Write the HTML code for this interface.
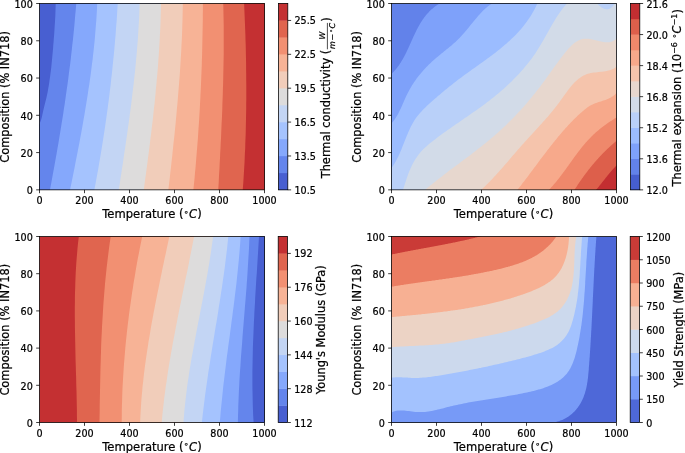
<!DOCTYPE html>
<html><head><meta charset="utf-8"><title>Material property maps</title><style>html,body{margin:0;padding:0;background:#fff}svg{display:block}</style></head><body>
<svg width="685" height="453" viewBox="0 0 685 453" font-family='"DejaVu Sans","Liberation Sans",sans-serif' fill="#000"><style>text{stroke:#000;stroke-width:0.22px}</style>
<rect width="685" height="453" fill="#fff"/>
<defs>
<clipPath id="c1"><rect x="39.50" y="3.50" width="225.00" height="186.35"/></clipPath>
<clipPath id="c2"><rect x="391.50" y="3.50" width="225.00" height="186.35"/></clipPath>
<clipPath id="c3"><rect x="39.50" y="236.50" width="225.00" height="186.00"/></clipPath>
<clipPath id="c4"><rect x="391.50" y="236.50" width="225.00" height="186.00"/></clipPath>
</defs>
<g clip-path="url(#c1)">
<rect x="37.5" y="1.5" width="229.0" height="190.0" fill="#485fd1"/>
<path d="M55.8 0.5 L55.7 3.7 L55.6 6.8 L55.5 10.0 L55.4 13.2 L55.3 16.3 L55.1 19.5 L54.9 22.7 L54.7 25.8 L54.5 29.0 L54.3 32.2 L54.1 35.3 L53.8 38.5 L53.6 41.7 L53.3 44.8 L53.1 48.0 L52.8 51.2 L52.5 54.3 L52.2 57.5 L51.9 60.7 L51.6 63.8 L51.3 67.0 L50.9 70.2 L50.5 73.3 L50.1 76.5 L49.6 79.7 L49.2 82.8 L48.7 86.0 L48.1 89.2 L47.6 92.3 L46.9 95.5 L46.2 98.7 L45.4 101.8 L44.6 105.0 L43.8 108.2 L43.1 111.3 L42.4 114.5 L41.7 117.7 L40.8 120.8 L39.5 124.0 L38.5 126.0 L37.5 126.0 L37.5 191.5 L266.5 191.5 L266.5 1.5Z" fill="#6485ec"/>
<path d="M76.4 0.5 L76.1 5.4 L75.7 10.3 L75.2 15.3 L74.8 20.2 L74.4 25.1 L73.9 30.0 L73.4 35.0 L72.9 39.9 L72.3 44.8 L71.8 49.7 L71.2 54.7 L70.7 59.6 L70.1 64.5 L69.4 69.4 L68.8 74.3 L68.2 79.3 L67.5 84.2 L66.8 89.1 L66.1 94.0 L65.4 99.0 L64.7 103.9 L63.9 108.8 L63.2 113.7 L62.4 118.7 L61.6 123.6 L60.8 128.5 L60.0 133.4 L59.2 138.3 L58.4 143.3 L57.5 148.2 L56.7 153.1 L55.8 158.0 L54.9 163.0 L54.0 167.9 L53.1 172.8 L52.2 177.7 L51.3 182.7 L50.4 187.6 L49.4 192.5 L266.5 191.5 L266.5 1.5Z" fill="#85a8fc"/>
<path d="M97.3 0.5 L97.1 5.4 L96.9 10.3 L96.6 15.3 L96.3 20.2 L95.9 25.1 L95.5 30.0 L95.1 35.0 L94.7 39.9 L94.2 44.8 L93.7 49.7 L93.1 54.7 L92.6 59.6 L91.9 64.5 L91.3 69.4 L90.7 74.3 L90.0 79.3 L89.3 84.2 L88.5 89.1 L87.8 94.0 L87.0 99.0 L86.2 103.9 L85.4 108.8 L84.6 113.7 L83.7 118.7 L82.9 123.6 L82.0 128.5 L81.1 133.4 L80.2 138.3 L79.3 143.3 L78.3 148.2 L77.4 153.1 L76.4 158.0 L75.4 163.0 L74.5 167.9 L73.5 172.8 L72.5 177.7 L71.5 182.7 L70.5 187.6 L69.5 192.5 L266.5 191.5 L266.5 1.5Z" fill="#a5c3fe"/>
<path d="M117.9 0.5 L117.6 5.4 L117.3 10.3 L117.0 15.3 L116.7 20.2 L116.3 25.1 L115.9 30.0 L115.6 35.0 L115.1 39.9 L114.7 44.8 L114.3 49.7 L113.8 54.7 L113.3 59.6 L112.8 64.5 L112.3 69.4 L111.8 74.3 L111.2 79.3 L110.7 84.2 L110.1 89.1 L109.5 94.0 L108.9 99.0 L108.2 103.9 L107.6 108.8 L106.9 113.7 L106.2 118.7 L105.5 123.6 L104.8 128.5 L104.0 133.4 L103.3 138.3 L102.5 143.3 L101.7 148.2 L100.9 153.1 L100.1 158.0 L99.2 163.0 L98.4 167.9 L97.5 172.8 L96.6 177.7 L95.7 182.7 L94.8 187.6 L93.8 192.5 L266.5 191.5 L266.5 1.5Z" fill="#c3d5f4"/>
<path d="M139.7 0.5 L139.5 5.4 L139.4 10.3 L139.2 15.3 L139.0 20.2 L138.7 25.1 L138.4 30.0 L138.1 35.0 L137.8 39.9 L137.4 44.8 L137.0 49.7 L136.6 54.7 L136.1 59.6 L135.7 64.5 L135.2 69.4 L134.7 74.3 L134.1 79.3 L133.6 84.2 L133.0 89.1 L132.4 94.0 L131.8 99.0 L131.2 103.9 L130.6 108.8 L129.9 113.7 L129.3 118.7 L128.6 123.6 L127.9 128.5 L127.2 133.4 L126.5 138.3 L125.8 143.3 L125.1 148.2 L124.3 153.1 L123.6 158.0 L122.9 163.0 L122.1 167.9 L121.4 172.8 L120.6 177.7 L119.9 182.7 L119.1 187.6 L118.3 192.5 L266.5 191.5 L266.5 1.5Z" fill="#dddcdc"/>
<path d="M161.0 0.5 L161.0 5.4 L160.9 10.3 L160.7 15.3 L160.6 20.2 L160.4 25.1 L160.2 30.0 L159.9 35.0 L159.7 39.9 L159.4 44.8 L159.1 49.7 L158.8 54.7 L158.4 59.6 L158.1 64.5 L157.7 69.4 L157.3 74.3 L156.8 79.3 L156.4 84.2 L155.9 89.1 L155.5 94.0 L155.0 99.0 L154.5 103.9 L153.9 108.8 L153.4 113.7 L152.9 118.7 L152.3 123.6 L151.7 128.5 L151.1 133.4 L150.5 138.3 L149.9 143.3 L149.3 148.2 L148.7 153.1 L148.0 158.0 L147.4 163.0 L146.7 167.9 L146.1 172.8 L145.4 177.7 L144.7 182.7 L144.1 187.6 L143.4 192.5 L266.5 191.5 L266.5 1.5Z" fill="#f1cdba"/>
<path d="M182.8 0.5 L182.8 5.4 L182.7 10.3 L182.6 15.3 L182.5 20.2 L182.3 25.1 L182.2 30.0 L182.0 35.0 L181.8 39.9 L181.5 44.8 L181.3 49.7 L181.0 54.7 L180.7 59.6 L180.4 64.5 L180.1 69.4 L179.8 74.3 L179.4 79.3 L179.0 84.2 L178.6 89.1 L178.2 94.0 L177.8 99.0 L177.4 103.9 L176.9 108.8 L176.5 113.7 L176.0 118.7 L175.6 123.6 L175.1 128.5 L174.6 133.4 L174.1 138.3 L173.5 143.3 L173.0 148.2 L172.5 153.1 L172.0 158.0 L171.4 163.0 L170.9 167.9 L170.3 172.8 L169.8 177.7 L169.2 182.7 L168.6 187.6 L168.1 192.5 L266.5 191.5 L266.5 1.5Z" fill="#f7b396"/>
<path d="M202.9 0.5 L202.9 5.4 L202.9 10.3 L202.8 15.3 L202.8 20.2 L202.7 25.1 L202.6 30.0 L202.5 35.0 L202.4 39.9 L202.3 44.8 L202.2 49.7 L202.1 54.7 L201.9 59.6 L201.8 64.5 L201.6 69.4 L201.4 74.3 L201.2 79.3 L201.0 84.2 L200.8 89.1 L200.5 94.0 L200.3 99.0 L200.0 103.9 L199.8 108.8 L199.5 113.7 L199.2 118.7 L198.9 123.6 L198.5 128.5 L198.2 133.4 L197.9 138.3 L197.5 143.3 L197.1 148.2 L196.7 153.1 L196.3 158.0 L195.9 163.0 L195.5 167.9 L195.0 172.8 L194.6 177.7 L194.1 182.7 L193.6 187.6 L193.1 192.5 L266.5 191.5 L266.5 1.5Z" fill="#f29072"/>
<path d="M223.1 0.5 L223.3 5.4 L223.4 10.3 L223.5 15.3 L223.6 20.2 L223.7 25.1 L223.7 30.0 L223.7 35.0 L223.7 39.9 L223.7 44.8 L223.7 49.7 L223.7 54.7 L223.6 59.6 L223.5 64.5 L223.4 69.4 L223.3 74.3 L223.2 79.3 L223.1 84.2 L222.9 89.1 L222.8 94.0 L222.6 99.0 L222.4 103.9 L222.3 108.8 L222.1 113.7 L221.9 118.7 L221.6 123.6 L221.4 128.5 L221.2 133.4 L221.0 138.3 L220.7 143.3 L220.5 148.2 L220.2 153.1 L220.0 158.0 L219.7 163.0 L219.5 167.9 L219.2 172.8 L218.9 177.7 L218.7 182.7 L218.4 187.6 L218.1 192.5 L266.5 191.5 L266.5 1.5Z" fill="#e0654f"/>
<path d="M244.0 0.5 L244.2 5.4 L244.4 10.3 L244.6 15.3 L244.8 20.2 L245.0 25.1 L245.2 30.0 L245.4 35.0 L245.5 39.9 L245.7 44.8 L245.8 49.7 L245.9 54.7 L246.0 59.6 L246.1 64.5 L246.1 69.4 L246.2 74.3 L246.2 79.3 L246.3 84.2 L246.3 89.1 L246.3 94.0 L246.3 99.0 L246.2 103.9 L246.2 108.8 L246.1 113.7 L246.0 118.7 L245.9 123.6 L245.8 128.5 L245.7 133.4 L245.5 138.3 L245.3 143.3 L245.2 148.2 L244.9 153.1 L244.7 158.0 L244.5 163.0 L244.2 167.9 L243.9 172.8 L243.6 177.7 L243.3 182.7 L242.9 187.6 L242.6 192.5 L266.5 191.5 L266.5 1.5Z" fill="#c43032"/>
</g>
<g clip-path="url(#c2)">
<rect x="389.5" y="1.5" width="229.0" height="190.0" fill="#6282ea"/>
<path d="M389.7 75.6 L391.8 73.5 L392.4 73.0 L392.9 72.5 L393.4 72.0 L393.9 71.4 L394.3 70.9 L394.8 70.4 L395.3 69.9 L395.8 69.3 L396.2 68.8 L396.7 68.2 L397.1 67.7 L397.5 67.1 L397.9 66.5 L398.4 66.0 L398.8 65.4 L399.2 64.8 L399.6 64.2 L400.0 63.6 L400.4 63.0 L400.8 62.4 L401.1 61.8 L401.5 61.2 L401.9 60.6 L402.2 60.0 L402.6 59.4 L402.9 58.8 L403.3 58.2 L403.6 57.5 L404.0 56.9 L404.3 56.3 L404.7 55.6 L405.0 55.0 L405.3 54.4 L405.6 53.7 L406.0 53.1 L406.3 52.4 L406.6 51.8 L406.9 51.1 L407.2 50.5 L407.5 49.8 L407.8 49.2 L408.1 48.5 L408.4 47.9 L408.7 47.2 L409.0 46.6 L409.3 45.9 L409.6 45.2 L409.9 44.6 L410.2 43.9 L410.5 43.3 L410.8 42.6 L411.1 41.9 L411.4 41.3 L411.7 40.6 L412.0 39.9 L412.3 39.3 L412.6 38.6 L412.9 38.0 L413.2 37.3 L413.5 36.6 L413.8 36.0 L414.1 35.3 L414.4 34.7 L414.7 34.0 L415.0 33.4 L415.3 32.7 L415.7 32.1 L416.0 31.4 L416.3 30.8 L416.6 30.1 L416.9 29.5 L417.3 28.8 L417.6 28.2 L417.9 27.6 L418.3 26.9 L418.6 26.3 L419.0 25.7 L419.3 25.1 L419.7 24.4 L420.0 23.8 L420.4 23.2 L420.8 22.6 L421.1 22.0 L421.5 21.4 L421.9 20.8 L422.3 20.2 L422.7 19.6 L423.1 19.0 L423.5 18.4 L423.9 17.9 L424.3 17.3 L424.8 16.7 L425.2 16.2 L425.7 15.6 L426.1 15.0 L426.6 14.5 L427.0 14.0 L427.5 13.4 L428.0 12.9 L428.5 12.4 L429.0 11.8 L429.5 11.3 L430.0 10.8 L430.5 10.3 L431.0 9.8 L431.6 9.3 L432.1 8.9 L432.7 8.4 L433.2 7.9 L433.8 7.5 L434.4 7.0 L435.0 6.6 L435.6 6.1 L436.2 5.7 L436.8 5.3 L437.5 4.8 L438.1 4.4 L438.8 4.0 L439.4 3.6 L442.0 2.1 L442.0 1.5 L618.5 1.5 L618.5 191.5 L389.5 191.5 L389.5 75.6Z" fill="#7ea1fa"/>
<path d="M389.9 125.4 L391.8 123.1 L392.7 122.1 L393.5 121.0 L394.3 120.0 L395.0 118.9 L395.7 117.8 L396.4 116.7 L397.1 115.5 L397.8 114.4 L398.4 113.2 L399.0 112.0 L399.6 110.8 L400.2 109.6 L400.8 108.4 L401.3 107.2 L401.9 106.0 L402.4 104.7 L402.9 103.5 L403.5 102.3 L404.0 101.0 L404.6 99.8 L405.1 98.6 L405.7 97.3 L406.2 96.1 L406.8 94.9 L407.4 93.7 L408.0 92.5 L408.6 91.4 L409.2 90.2 L409.9 89.0 L410.5 87.9 L411.2 86.8 L411.9 85.6 L412.6 84.5 L413.3 83.4 L414.0 82.3 L414.8 81.3 L415.5 80.2 L416.3 79.1 L417.0 78.1 L417.8 77.0 L418.6 76.0 L419.4 75.0 L420.3 73.9 L421.1 72.9 L422.0 71.9 L422.8 71.0 L423.7 70.0 L424.6 69.0 L425.5 68.0 L426.4 67.1 L427.3 66.2 L428.2 65.2 L429.1 64.3 L430.1 63.4 L431.1 62.5 L432.0 61.6 L433.0 60.7 L434.0 59.8 L435.0 58.9 L436.0 58.1 L437.0 57.2 L438.0 56.4 L439.1 55.5 L440.1 54.7 L441.1 53.8 L442.2 53.0 L443.2 52.2 L444.2 51.3 L445.3 50.5 L446.3 49.6 L447.4 48.8 L448.4 48.0 L449.4 47.1 L450.5 46.3 L451.5 45.4 L452.5 44.5 L453.5 43.6 L454.5 42.8 L455.5 41.9 L456.4 41.0 L457.4 40.0 L458.4 39.1 L459.3 38.2 L460.2 37.2 L461.1 36.3 L462.0 35.3 L462.9 34.3 L463.8 33.3 L464.7 32.3 L465.5 31.3 L466.4 30.3 L467.2 29.2 L468.1 28.2 L468.9 27.2 L469.8 26.1 L470.6 25.1 L471.4 24.1 L472.3 23.0 L473.1 22.0 L473.9 21.0 L474.8 19.9 L475.6 18.9 L476.5 17.9 L477.3 16.9 L478.2 15.8 L479.1 14.9 L479.9 13.9 L480.9 12.9 L481.8 11.9 L482.7 11.0 L483.7 10.1 L484.6 9.2 L485.6 8.3 L486.6 7.4 L487.7 6.6 L488.7 5.8 L489.8 5.0 L490.9 4.2 L492.1 3.5 L494.5 1.7 L494.5 1.5 L618.5 1.5 L618.5 191.5 L389.5 191.5 L389.5 125.4Z" fill="#9bbcff"/>
<path d="M390.1 169.9 L391.8 167.4 L392.9 165.9 L393.9 164.4 L394.9 162.8 L395.8 161.2 L396.7 159.6 L397.5 158.0 L398.4 156.3 L399.2 154.6 L399.9 152.9 L400.7 151.1 L401.4 149.4 L402.1 147.6 L402.8 145.8 L403.5 144.1 L404.2 142.3 L404.9 140.5 L405.6 138.7 L406.3 137.0 L407.0 135.2 L407.8 133.4 L408.5 131.7 L409.3 130.0 L410.1 128.3 L410.9 126.6 L411.8 124.9 L412.7 123.3 L413.6 121.7 L414.6 120.1 L415.6 118.6 L416.7 117.1 L417.9 115.6 L419.0 114.2 L420.2 112.8 L421.5 111.4 L422.7 110.0 L424.0 108.7 L425.4 107.4 L426.7 106.1 L428.1 104.8 L429.5 103.5 L430.9 102.3 L432.3 101.0 L433.7 99.8 L435.1 98.6 L436.5 97.4 L437.9 96.1 L439.4 94.9 L440.8 93.7 L442.2 92.5 L443.7 91.3 L445.1 90.1 L446.5 88.9 L448.0 87.7 L449.4 86.6 L450.9 85.4 L452.4 84.2 L453.8 83.1 L455.3 81.9 L456.8 80.8 L458.3 79.6 L459.8 78.5 L461.3 77.4 L462.8 76.3 L464.4 75.1 L465.9 74.0 L467.4 72.9 L469.0 71.8 L470.5 70.7 L472.0 69.6 L473.6 68.5 L475.1 67.4 L476.7 66.3 L478.2 65.2 L479.8 64.1 L481.3 63.0 L482.8 61.9 L484.4 60.8 L485.9 59.7 L487.4 58.6 L489.0 57.4 L490.5 56.3 L492.0 55.2 L493.5 54.0 L495.0 52.9 L496.5 51.7 L498.0 50.6 L499.4 49.4 L500.9 48.2 L502.3 47.0 L503.8 45.8 L505.2 44.6 L506.6 43.4 L508.0 42.1 L509.4 40.9 L510.8 39.6 L512.1 38.3 L513.5 37.0 L514.8 35.7 L516.1 34.4 L517.4 33.0 L518.6 31.7 L519.9 30.3 L521.1 28.9 L522.3 27.5 L523.5 26.0 L524.6 24.6 L525.8 23.1 L526.9 21.6 L527.9 20.1 L529.0 18.5 L530.0 17.0 L531.0 15.4 L532.0 13.8 L533.0 12.1 L533.9 10.5 L534.8 8.8 L535.7 7.0 L536.5 5.3 L537.3 3.5 L538.6 0.8 L538.6 1.5 L618.5 1.5 L618.5 191.5 L389.5 191.5 L389.5 169.9Z" fill="#b9d0f9"/>
<path d="M402.3 192.5 L403.1 189.7 L403.7 187.6 L404.4 185.6 L405.0 183.5 L405.7 181.4 L406.4 179.3 L407.1 177.3 L407.8 175.2 L408.5 173.2 L409.3 171.2 L410.2 169.2 L411.1 167.2 L412.0 165.3 L412.9 163.4 L414.0 161.5 L415.0 159.7 L416.2 157.9 L417.4 156.2 L418.6 154.5 L419.9 152.9 L421.3 151.3 L422.8 149.8 L424.3 148.3 L425.8 146.9 L427.4 145.5 L429.0 144.1 L430.6 142.8 L432.3 141.5 L433.9 140.2 L435.6 138.9 L437.3 137.6 L439.0 136.3 L440.7 135.1 L442.4 133.8 L444.1 132.6 L445.8 131.4 L447.6 130.1 L449.3 128.9 L451.0 127.7 L452.7 126.5 L454.5 125.3 L456.2 124.1 L458.0 122.9 L459.7 121.7 L461.4 120.5 L463.2 119.3 L464.9 118.1 L466.6 116.9 L468.4 115.7 L470.1 114.5 L471.8 113.3 L473.6 112.1 L475.3 110.9 L477.0 109.7 L478.7 108.4 L480.5 107.2 L482.2 105.9 L483.9 104.7 L485.6 103.4 L487.3 102.1 L489.0 100.9 L490.6 99.6 L492.3 98.2 L494.0 96.9 L495.6 95.6 L497.3 94.2 L498.9 92.9 L500.5 91.5 L502.2 90.1 L503.8 88.7 L505.4 87.2 L506.9 85.8 L508.5 84.3 L510.1 82.8 L511.6 81.4 L513.1 79.8 L514.6 78.3 L516.1 76.8 L517.6 75.2 L519.1 73.7 L520.5 72.1 L521.9 70.5 L523.3 68.9 L524.7 67.3 L526.1 65.6 L527.4 64.0 L528.8 62.3 L530.1 60.6 L531.4 58.9 L532.6 57.2 L533.8 55.4 L535.1 53.7 L536.2 51.9 L537.4 50.1 L538.5 48.3 L539.6 46.5 L540.7 44.7 L541.8 42.8 L542.9 41.0 L543.9 39.2 L545.0 37.3 L546.0 35.4 L547.1 33.6 L548.1 31.7 L549.1 29.9 L550.2 28.0 L551.2 26.2 L552.3 24.3 L553.4 22.5 L554.5 20.7 L555.6 18.8 L556.7 17.1 L557.9 15.3 L559.1 13.5 L560.3 11.8 L561.6 10.0 L562.9 8.3 L564.2 6.7 L565.6 5.0 L567.0 3.4 L568.9 1.1 L568.9 1.5 L618.5 1.5 L618.5 191.5 L402.3 191.5Z" fill="#d2dbe8"/>
<path d="M422.8 191.8 L425.1 189.9 L426.7 188.5 L428.4 187.1 L430.0 185.7 L431.7 184.4 L433.4 183.0 L435.1 181.7 L436.8 180.3 L438.5 179.0 L440.2 177.7 L441.9 176.4 L443.6 175.0 L445.3 173.7 L447.0 172.4 L448.7 171.1 L450.4 169.8 L452.2 168.5 L453.9 167.3 L455.6 166.0 L457.3 164.7 L459.1 163.4 L460.8 162.1 L462.5 160.8 L464.2 159.5 L466.0 158.3 L467.7 157.0 L469.4 155.7 L471.1 154.4 L472.8 153.1 L474.5 151.8 L476.2 150.4 L477.9 149.1 L479.6 147.8 L481.3 146.5 L483.0 145.1 L484.7 143.8 L486.3 142.4 L488.0 141.1 L489.7 139.7 L491.3 138.3 L492.9 136.9 L494.6 135.5 L496.2 134.1 L497.8 132.7 L499.4 131.2 L501.0 129.8 L502.6 128.3 L504.2 126.8 L505.7 125.4 L507.3 123.8 L508.8 122.3 L510.3 120.8 L511.9 119.3 L513.4 117.7 L514.9 116.2 L516.4 114.6 L517.8 113.0 L519.3 111.5 L520.8 109.9 L522.2 108.3 L523.7 106.7 L525.1 105.0 L526.5 103.4 L527.9 101.8 L529.3 100.1 L530.7 98.5 L532.1 96.8 L533.4 95.1 L534.8 93.5 L536.1 91.8 L537.4 90.1 L538.7 88.4 L540.1 86.7 L541.3 85.0 L542.6 83.2 L543.9 81.5 L545.2 79.8 L546.4 78.0 L547.7 76.3 L548.9 74.6 L550.2 72.8 L551.4 71.1 L552.7 69.3 L553.9 67.5 L555.2 65.8 L556.5 64.0 L557.8 62.3 L559.1 60.5 L560.4 58.7 L561.7 57.0 L563.1 55.2 L564.4 53.4 L565.9 51.7 L567.3 49.9 L568.8 48.3 L570.3 46.7 L571.8 45.2 L573.4 43.8 L575.0 42.5 L576.7 41.4 L578.4 40.4 L580.2 39.7 L582.1 39.1 L584.0 38.8 L586.0 38.7 L588.1 38.8 L590.2 39.1 L592.3 39.5 L594.5 40.0 L596.6 40.6 L598.8 41.1 L601.0 41.6 L603.1 42.0 L605.3 42.3 L607.3 42.3 L609.3 42.2 L611.3 41.8 L613.1 41.1 L614.9 40.0 L616.5 38.5 L619.1 36.9 L618.5 36.9 L618.5 191.5 L422.8 191.5Z" fill="#e7d7ce"/>
<path d="M479.5 191.5 L481.7 189.4 L482.8 188.3 L484.0 187.3 L485.1 186.2 L486.2 185.1 L487.3 184.0 L488.5 182.8 L489.6 181.7 L490.7 180.6 L491.8 179.4 L492.9 178.3 L493.9 177.1 L495.0 176.0 L496.1 174.8 L497.2 173.6 L498.2 172.5 L499.3 171.3 L500.3 170.1 L501.4 168.9 L502.4 167.7 L503.5 166.5 L504.5 165.3 L505.6 164.1 L506.6 162.9 L507.7 161.7 L508.7 160.5 L509.7 159.3 L510.8 158.0 L511.8 156.8 L512.8 155.6 L513.9 154.4 L514.9 153.2 L516.0 152.0 L517.0 150.8 L518.0 149.6 L519.1 148.4 L520.1 147.2 L521.2 146.0 L522.2 144.8 L523.3 143.7 L524.3 142.5 L525.4 141.3 L526.4 140.2 L527.5 139.0 L528.6 137.8 L529.6 136.7 L530.7 135.5 L531.7 134.4 L532.8 133.2 L533.9 132.1 L534.9 130.9 L536.0 129.7 L537.1 128.6 L538.1 127.4 L539.2 126.3 L540.2 125.1 L541.3 123.9 L542.3 122.8 L543.4 121.6 L544.4 120.4 L545.5 119.3 L546.5 118.1 L547.6 116.9 L548.6 115.7 L549.6 114.5 L550.6 113.3 L551.7 112.0 L552.7 110.8 L553.7 109.6 L554.7 108.3 L555.7 107.1 L556.7 105.8 L557.6 104.5 L558.6 103.2 L559.6 101.9 L560.5 100.6 L561.5 99.3 L562.4 98.0 L563.4 96.6 L564.3 95.3 L565.2 94.0 L566.2 92.7 L567.1 91.4 L568.1 90.1 L569.1 88.8 L570.1 87.5 L571.1 86.3 L572.1 85.1 L573.1 84.0 L574.2 82.8 L575.2 81.7 L576.4 80.7 L577.5 79.7 L578.6 78.8 L579.8 77.9 L581.1 77.0 L582.3 76.3 L583.6 75.5 L585.0 74.9 L586.3 74.3 L587.8 73.8 L589.2 73.4 L590.7 73.1 L592.3 72.8 L593.9 72.6 L595.5 72.4 L597.1 72.2 L598.7 72.0 L600.3 71.8 L602.0 71.7 L603.6 71.5 L605.2 71.2 L606.8 70.9 L608.3 70.6 L609.8 70.2 L611.3 69.7 L612.7 69.1 L614.1 68.4 L615.4 67.6 L616.7 66.7 L619.2 65.2 L618.5 65.2 L618.5 191.5 L479.5 191.5Z" fill="#f5c4ac"/>
<path d="M515.8 191.9 L517.7 189.6 L518.4 188.6 L519.1 187.7 L519.8 186.8 L520.6 185.9 L521.3 184.9 L522.0 184.0 L522.7 183.0 L523.5 182.1 L524.2 181.2 L524.9 180.2 L525.6 179.3 L526.4 178.3 L527.1 177.4 L527.8 176.4 L528.5 175.5 L529.2 174.5 L529.9 173.5 L530.7 172.6 L531.4 171.6 L532.1 170.7 L532.8 169.7 L533.5 168.7 L534.2 167.8 L535.0 166.8 L535.7 165.9 L536.4 164.9 L537.1 163.9 L537.8 163.0 L538.5 162.0 L539.3 161.1 L540.0 160.1 L540.7 159.1 L541.4 158.2 L542.1 157.2 L542.9 156.3 L543.6 155.3 L544.3 154.4 L545.0 153.4 L545.8 152.5 L546.5 151.5 L547.2 150.6 L548.0 149.6 L548.7 148.7 L549.4 147.7 L550.2 146.8 L550.9 145.8 L551.6 144.9 L552.4 144.0 L553.1 143.0 L553.9 142.1 L554.6 141.2 L555.3 140.3 L556.1 139.4 L556.8 138.4 L557.6 137.5 L558.3 136.6 L559.1 135.7 L559.9 134.8 L560.6 133.9 L561.4 133.0 L562.2 132.1 L562.9 131.2 L563.7 130.3 L564.5 129.5 L565.2 128.6 L566.0 127.7 L566.8 126.9 L567.6 126.0 L568.4 125.1 L569.2 124.3 L570.0 123.4 L570.8 122.6 L571.6 121.8 L572.4 120.9 L573.2 120.1 L574.0 119.3 L574.8 118.5 L575.6 117.7 L576.5 116.9 L577.3 116.1 L578.1 115.3 L579.0 114.5 L579.8 113.7 L580.7 113.0 L581.6 112.2 L582.4 111.4 L583.3 110.7 L584.2 109.9 L585.1 109.2 L586.1 108.5 L587.0 107.8 L588.0 107.1 L588.9 106.5 L589.9 105.8 L590.9 105.3 L592.0 104.7 L593.0 104.2 L594.1 103.7 L595.2 103.3 L596.3 102.9 L597.5 102.5 L598.6 102.1 L599.8 101.7 L600.9 101.4 L602.1 101.0 L603.2 100.6 L604.4 100.3 L605.5 99.9 L606.6 99.5 L607.7 99.0 L608.8 98.5 L609.9 98.0 L610.9 97.5 L611.9 96.8 L612.9 96.2 L613.9 95.5 L614.8 94.7 L615.7 93.8 L616.5 92.9 L618.7 90.8 L618.5 90.8 L618.5 191.5 L515.8 191.5Z" fill="#f7a98b"/>
<path d="M547.1 191.8 L549.2 189.6 L549.8 189.0 L550.4 188.4 L550.9 187.8 L551.5 187.1 L552.1 186.5 L552.6 185.9 L553.2 185.3 L553.7 184.6 L554.3 184.0 L554.8 183.3 L555.4 182.7 L555.9 182.1 L556.4 181.4 L557.0 180.8 L557.5 180.1 L558.0 179.4 L558.6 178.8 L559.1 178.1 L559.6 177.5 L560.1 176.8 L560.6 176.1 L561.1 175.5 L561.6 174.8 L562.1 174.1 L562.6 173.4 L563.1 172.8 L563.6 172.1 L564.1 171.4 L564.6 170.7 L565.1 170.0 L565.6 169.4 L566.1 168.7 L566.6 168.0 L567.1 167.3 L567.6 166.6 L568.1 165.9 L568.6 165.3 L569.0 164.6 L569.5 163.9 L570.0 163.2 L570.5 162.5 L571.0 161.8 L571.5 161.2 L572.0 160.5 L572.5 159.8 L573.0 159.1 L573.4 158.4 L573.9 157.7 L574.4 157.1 L574.9 156.4 L575.4 155.7 L575.9 155.0 L576.4 154.4 L576.9 153.7 L577.4 153.0 L577.9 152.4 L578.4 151.7 L578.9 151.0 L579.4 150.4 L580.0 149.7 L580.5 149.0 L581.0 148.4 L581.5 147.7 L582.0 147.1 L582.5 146.4 L583.1 145.8 L583.6 145.2 L584.1 144.5 L584.7 143.9 L585.2 143.3 L585.8 142.6 L586.3 142.0 L586.9 141.4 L587.4 140.8 L588.0 140.2 L588.6 139.6 L589.1 139.0 L589.7 138.4 L590.3 137.8 L590.9 137.2 L591.5 136.6 L592.0 136.0 L592.6 135.4 L593.2 134.8 L593.8 134.3 L594.5 133.7 L595.1 133.1 L595.7 132.6 L596.3 132.0 L596.9 131.5 L597.6 130.9 L598.2 130.4 L598.8 129.9 L599.5 129.3 L600.1 128.8 L600.8 128.3 L601.4 127.7 L602.1 127.2 L602.8 126.7 L603.4 126.2 L604.1 125.7 L604.8 125.2 L605.5 124.7 L606.2 124.2 L606.9 123.7 L607.5 123.2 L608.2 122.7 L609.0 122.3 L609.7 121.8 L610.4 121.3 L611.1 120.9 L611.8 120.4 L612.5 119.9 L613.3 119.5 L614.0 119.0 L614.7 118.6 L615.5 118.1 L616.2 117.7 L617.0 117.3 L619.6 115.8 L618.5 115.8 L618.5 191.5 L547.1 191.5Z" fill="#ef886b"/>
<path d="M573.0 192.1 L574.6 189.6 L574.9 189.1 L575.2 188.7 L575.5 188.2 L575.8 187.8 L576.1 187.3 L576.4 186.9 L576.7 186.4 L577.0 185.9 L577.3 185.5 L577.6 185.0 L577.9 184.6 L578.2 184.1 L578.5 183.7 L578.8 183.2 L579.1 182.8 L579.4 182.3 L579.7 181.9 L580.0 181.4 L580.3 181.0 L580.7 180.6 L581.0 180.1 L581.3 179.7 L581.6 179.2 L581.9 178.8 L582.2 178.3 L582.5 177.9 L582.9 177.5 L583.2 177.0 L583.5 176.6 L583.8 176.1 L584.1 175.7 L584.4 175.3 L584.8 174.8 L585.1 174.4 L585.4 174.0 L585.7 173.5 L586.1 173.1 L586.4 172.7 L586.7 172.2 L587.0 171.8 L587.4 171.4 L587.7 170.9 L588.0 170.5 L588.4 170.1 L588.7 169.6 L589.0 169.2 L589.4 168.8 L589.7 168.4 L590.0 167.9 L590.4 167.5 L590.7 167.1 L591.1 166.7 L591.4 166.3 L591.8 165.8 L592.1 165.4 L592.4 165.0 L592.8 164.6 L593.1 164.2 L593.5 163.8 L593.8 163.4 L594.2 162.9 L594.5 162.5 L594.9 162.1 L595.2 161.7 L595.6 161.3 L596.0 160.9 L596.3 160.5 L596.7 160.1 L597.0 159.7 L597.4 159.3 L597.8 158.9 L598.1 158.5 L598.5 158.1 L598.8 157.7 L599.2 157.3 L599.6 156.9 L599.9 156.5 L600.3 156.1 L600.7 155.7 L601.1 155.3 L601.4 154.9 L601.8 154.5 L602.2 154.1 L602.6 153.7 L602.9 153.3 L603.3 153.0 L603.7 152.6 L604.1 152.2 L604.5 151.8 L604.9 151.4 L605.2 151.0 L605.6 150.7 L606.0 150.3 L606.4 149.9 L606.8 149.5 L607.2 149.1 L607.6 148.8 L608.0 148.4 L608.4 148.0 L608.8 147.7 L609.2 147.3 L609.6 146.9 L610.0 146.6 L610.4 146.2 L610.8 145.8 L611.2 145.5 L611.6 145.1 L612.0 144.7 L612.4 144.4 L612.8 144.0 L613.2 143.7 L613.6 143.3 L614.1 143.0 L614.5 142.6 L614.9 142.2 L615.3 141.9 L615.7 141.5 L616.1 141.2 L616.6 140.9 L618.9 138.9 L618.5 138.9 L618.5 191.5 L573.0 191.5Z" fill="#dd5f4b"/>
<path d="M594.5 191.8 L596.4 189.5 L596.6 189.3 L596.7 189.1 L596.9 188.9 L597.1 188.7 L597.2 188.5 L597.4 188.3 L597.6 188.1 L597.8 187.9 L597.9 187.7 L598.1 187.5 L598.3 187.3 L598.4 187.1 L598.6 186.9 L598.8 186.7 L598.9 186.5 L599.1 186.3 L599.2 186.0 L599.4 185.8 L599.6 185.6 L599.7 185.4 L599.9 185.2 L600.1 185.0 L600.2 184.8 L600.4 184.6 L600.6 184.4 L600.7 184.2 L600.9 184.0 L601.1 183.8 L601.2 183.6 L601.4 183.4 L601.5 183.2 L601.7 183.0 L601.9 182.8 L602.0 182.5 L602.2 182.3 L602.4 182.1 L602.5 181.9 L602.7 181.7 L602.8 181.5 L603.0 181.3 L603.2 181.1 L603.3 180.9 L603.5 180.7 L603.7 180.5 L603.8 180.3 L604.0 180.1 L604.2 179.9 L604.3 179.7 L604.5 179.4 L604.6 179.2 L604.8 179.0 L605.0 178.8 L605.1 178.6 L605.3 178.4 L605.5 178.2 L605.6 178.0 L605.8 177.8 L605.9 177.6 L606.1 177.4 L606.3 177.2 L606.4 177.0 L606.6 176.8 L606.8 176.6 L606.9 176.4 L607.1 176.2 L607.3 175.9 L607.4 175.7 L607.6 175.5 L607.8 175.3 L607.9 175.1 L608.1 174.9 L608.3 174.7 L608.4 174.5 L608.6 174.3 L608.8 174.1 L608.9 173.9 L609.1 173.7 L609.3 173.5 L609.4 173.3 L609.6 173.1 L609.8 172.9 L609.9 172.7 L610.1 172.5 L610.3 172.3 L610.4 172.1 L610.6 171.9 L610.8 171.7 L611.0 171.5 L611.1 171.3 L611.3 171.1 L611.5 170.9 L611.6 170.7 L611.8 170.5 L612.0 170.3 L612.2 170.1 L612.3 169.9 L612.5 169.7 L612.7 169.5 L612.9 169.3 L613.0 169.1 L613.2 168.9 L613.4 168.7 L613.6 168.5 L613.8 168.3 L613.9 168.2 L614.1 168.0 L614.3 167.8 L614.5 167.6 L614.7 167.4 L614.8 167.2 L615.0 167.0 L615.2 166.8 L615.4 166.6 L615.6 166.4 L615.8 166.2 L615.9 166.1 L616.1 165.9 L616.3 165.7 L616.5 165.5 L618.6 163.4 L618.5 163.4 L618.5 191.5 L594.5 191.5Z" fill="#c32e31"/>
<path d="M594.4 1.5 L594.4 1.1 L596.6 3.2 L597.0 3.5 L597.4 3.9 L597.8 4.3 L598.2 4.7 L598.7 5.1 L599.1 5.5 L599.6 5.9 L600.1 6.3 L600.5 6.6 L601.0 7.0 L601.5 7.4 L602.0 7.7 L602.5 8.0 L603.1 8.3 L603.6 8.6 L604.1 8.8 L604.6 9.0 L605.2 9.1 L605.7 9.2 L606.3 9.3 L606.8 9.3 L607.3 9.3 L607.9 9.2 L608.4 9.0 L609.0 8.9 L609.5 8.7 L610.0 8.4 L610.5 8.1 L611.0 7.8 L611.4 7.5 L611.9 7.1 L612.3 6.7 L612.7 6.3 L613.1 5.8 L613.5 5.3 L613.8 4.8 L614.1 4.3 L614.4 3.7 L614.6 3.1 L615.9 0.4 L615.9 1.5Z" fill="#b9d0f9"/>
</g>
<g clip-path="url(#c3)">
<rect x="37.5" y="234.5" width="229.0" height="190.0" fill="#c43032"/>
<path d="M79.2 233.5 L78.6 238.4 L78.0 243.3 L77.5 248.3 L77.1 253.2 L76.7 258.1 L76.3 263.0 L76.0 268.0 L75.7 272.9 L75.5 277.8 L75.3 282.7 L75.2 287.7 L75.0 292.6 L74.9 297.5 L74.9 302.4 L74.8 307.3 L74.8 312.3 L74.8 317.2 L74.9 322.1 L74.9 327.0 L75.0 332.0 L75.1 336.9 L75.2 341.8 L75.3 346.7 L75.4 351.7 L75.5 356.6 L75.6 361.5 L75.8 366.4 L75.9 371.3 L76.1 376.3 L76.2 381.2 L76.3 386.1 L76.5 391.0 L76.6 396.0 L76.7 400.9 L76.8 405.8 L76.9 410.7 L76.9 415.7 L77.0 420.6 L77.0 425.5 L266.5 424.5 L266.5 234.5Z" fill="#e0654f"/>
<path d="M111.2 233.5 L110.4 238.4 L109.7 243.3 L109.0 248.3 L108.4 253.2 L107.8 258.1 L107.2 263.0 L106.6 268.0 L106.1 272.9 L105.6 277.8 L105.1 282.7 L104.7 287.7 L104.3 292.6 L103.9 297.5 L103.5 302.4 L103.2 307.3 L102.9 312.3 L102.6 317.2 L102.3 322.1 L102.0 327.0 L101.8 332.0 L101.5 336.9 L101.3 341.8 L101.1 346.7 L101.0 351.7 L100.8 356.6 L100.7 361.5 L100.5 366.4 L100.4 371.3 L100.3 376.3 L100.2 381.2 L100.1 386.1 L100.0 391.0 L99.9 396.0 L99.8 400.9 L99.7 405.8 L99.7 410.7 L99.6 415.7 L99.5 420.6 L99.5 425.5 L266.5 424.5 L266.5 234.5Z" fill="#f29072"/>
<path d="M142.8 233.5 L141.8 238.4 L140.8 243.3 L139.8 248.3 L138.9 253.2 L137.9 258.1 L137.0 263.0 L136.1 268.0 L135.3 272.9 L134.5 277.8 L133.6 282.7 L132.9 287.7 L132.1 292.6 L131.4 297.5 L130.7 302.4 L130.0 307.3 L129.3 312.3 L128.7 317.2 L128.1 322.1 L127.5 327.0 L126.9 332.0 L126.4 336.9 L125.9 341.8 L125.4 346.7 L125.0 351.7 L124.6 356.6 L124.2 361.5 L123.8 366.4 L123.5 371.3 L123.2 376.3 L122.9 381.2 L122.6 386.1 L122.4 391.0 L122.2 396.0 L122.1 400.9 L121.9 405.8 L121.8 410.7 L121.8 415.7 L121.7 420.6 L121.7 425.5 L266.5 424.5 L266.5 234.5Z" fill="#f7b396"/>
<path d="M169.9 233.5 L168.9 238.4 L167.9 243.3 L166.8 248.3 L165.8 253.2 L164.7 258.1 L163.7 263.0 L162.6 268.0 L161.6 272.9 L160.6 277.8 L159.6 282.7 L158.6 287.7 L157.6 292.6 L156.6 297.5 L155.6 302.4 L154.7 307.3 L153.7 312.3 L152.8 317.2 L151.9 322.1 L151.0 327.0 L150.2 332.0 L149.4 336.9 L148.5 341.8 L147.8 346.7 L147.0 351.7 L146.3 356.6 L145.6 361.5 L144.9 366.4 L144.3 371.3 L143.7 376.3 L143.2 381.2 L142.6 386.1 L142.2 391.0 L141.7 396.0 L141.3 400.9 L141.0 405.8 L140.7 410.7 L140.4 415.7 L140.2 420.6 L140.0 425.5 L266.5 424.5 L266.5 234.5Z" fill="#f1cdba"/>
<path d="M194.7 233.5 L193.7 238.4 L192.8 243.3 L191.8 248.3 L190.8 253.2 L189.8 258.1 L188.9 263.0 L187.9 268.0 L186.9 272.9 L185.8 277.8 L184.8 282.7 L183.8 287.7 L182.8 292.6 L181.8 297.5 L180.8 302.4 L179.8 307.3 L178.8 312.3 L177.8 317.2 L176.9 322.1 L175.9 327.0 L175.0 332.0 L174.0 336.9 L173.1 341.8 L172.2 346.7 L171.3 351.7 L170.5 356.6 L169.6 361.5 L168.8 366.4 L168.0 371.3 L167.3 376.3 L166.6 381.2 L165.8 386.1 L165.2 391.0 L164.5 396.0 L163.9 400.9 L163.4 405.8 L162.8 410.7 L162.3 415.7 L161.9 420.6 L161.5 425.5 L266.5 424.5 L266.5 234.5Z" fill="#dddcdc"/>
<path d="M213.5 233.5 L212.9 238.4 L212.2 243.3 L211.5 248.3 L210.8 253.2 L210.0 258.1 L209.3 263.0 L208.4 268.0 L207.6 272.9 L206.7 277.8 L205.8 282.7 L204.9 287.7 L204.0 292.6 L203.1 297.5 L202.1 302.4 L201.2 307.3 L200.2 312.3 L199.3 317.2 L198.3 322.1 L197.4 327.0 L196.4 332.0 L195.5 336.9 L194.6 341.8 L193.7 346.7 L192.8 351.7 L191.9 356.6 L191.0 361.5 L190.2 366.4 L189.4 371.3 L188.7 376.3 L187.9 381.2 L187.2 386.1 L186.6 391.0 L186.0 396.0 L185.4 400.9 L184.9 405.8 L184.4 410.7 L184.0 415.7 L183.6 420.6 L183.3 425.5 L266.5 424.5 L266.5 234.5Z" fill="#c3d5f4"/>
<path d="M228.6 233.5 L228.1 238.4 L227.6 243.3 L227.1 248.3 L226.5 253.2 L225.9 258.1 L225.3 263.0 L224.7 268.0 L224.0 272.9 L223.3 277.8 L222.6 282.7 L221.9 287.7 L221.1 292.6 L220.4 297.5 L219.6 302.4 L218.8 307.3 L218.1 312.3 L217.3 317.2 L216.5 322.1 L215.6 327.0 L214.8 332.0 L214.0 336.9 L213.2 341.8 L212.4 346.7 L211.6 351.7 L210.8 356.6 L210.1 361.5 L209.3 366.4 L208.5 371.3 L207.8 376.3 L207.1 381.2 L206.4 386.1 L205.7 391.0 L205.0 396.0 L204.4 400.9 L203.8 405.8 L203.2 410.7 L202.6 415.7 L202.1 420.6 L201.6 425.5 L266.5 424.5 L266.5 234.5Z" fill="#a5c3fe"/>
<path d="M240.8 233.5 L240.5 238.4 L240.2 243.3 L239.8 248.3 L239.4 253.2 L239.0 258.1 L238.5 263.0 L238.0 268.0 L237.5 272.9 L237.0 277.8 L236.5 282.7 L235.9 287.7 L235.3 292.6 L234.7 297.5 L234.1 302.4 L233.5 307.3 L232.8 312.3 L232.2 317.2 L231.5 322.1 L230.9 327.0 L230.2 332.0 L229.6 336.9 L228.9 341.8 L228.2 346.7 L227.6 351.7 L226.9 356.6 L226.3 361.5 L225.7 366.4 L225.1 371.3 L224.5 376.3 L223.9 381.2 L223.3 386.1 L222.8 391.0 L222.3 396.0 L221.8 400.9 L221.3 405.8 L220.8 410.7 L220.4 415.7 L220.0 420.6 L219.7 425.5 L266.5 424.5 L266.5 234.5Z" fill="#85a8fc"/>
<path d="M249.6 233.5 L249.4 238.4 L249.2 243.3 L249.0 248.3 L248.7 253.2 L248.4 258.1 L248.1 263.0 L247.8 268.0 L247.5 272.9 L247.2 277.8 L246.8 282.7 L246.5 287.7 L246.1 292.6 L245.7 297.5 L245.3 302.4 L244.9 307.3 L244.5 312.3 L244.1 317.2 L243.7 322.1 L243.3 327.0 L242.9 332.0 L242.5 336.9 L242.2 341.8 L241.8 346.7 L241.4 351.7 L241.0 356.6 L240.7 361.5 L240.4 366.4 L240.0 371.3 L239.7 376.3 L239.4 381.2 L239.2 386.1 L238.9 391.0 L238.7 396.0 L238.5 400.9 L238.3 405.8 L238.2 410.7 L238.0 415.7 L237.9 420.6 L237.9 425.5 L266.5 424.5 L266.5 234.5Z" fill="#6485ec"/>
<path d="M259.2 233.5 L258.9 238.4 L258.6 243.3 L258.3 248.3 L258.0 253.2 L257.7 258.1 L257.4 263.0 L257.1 268.0 L256.8 272.9 L256.4 277.8 L256.1 282.7 L255.8 287.7 L255.5 292.6 L255.2 297.5 L255.0 302.4 L254.7 307.3 L254.4 312.3 L254.2 317.2 L253.9 322.1 L253.7 327.0 L253.5 332.0 L253.3 336.9 L253.1 341.8 L252.9 346.7 L252.8 351.7 L252.7 356.6 L252.6 361.5 L252.5 366.4 L252.4 371.3 L252.4 376.3 L252.4 381.2 L252.4 386.1 L252.5 391.0 L252.6 396.0 L252.7 400.9 L252.8 405.8 L253.0 410.7 L253.2 415.7 L253.5 420.6 L253.8 425.5 L266.5 424.5 L266.5 234.5Z" fill="#485fd1"/>
</g>
<g clip-path="url(#c4)">
<rect x="389.5" y="234.5" width="229.0" height="190.0" fill="#4e68d8"/>
<path d="M551.0 423.0 L554.0 422.3 L555.1 422.1 L556.1 421.9 L557.2 421.6 L558.3 421.3 L559.3 421.0 L560.3 420.6 L561.3 420.3 L562.3 419.9 L563.2 419.4 L564.1 419.0 L565.1 418.5 L566.0 418.0 L566.9 417.5 L567.7 416.9 L568.6 416.4 L569.4 415.8 L570.2 415.2 L571.0 414.6 L571.8 413.9 L572.5 413.3 L573.2 412.6 L574.0 411.9 L574.7 411.2 L575.3 410.4 L576.0 409.7 L576.6 408.9 L577.3 408.1 L577.9 407.4 L578.4 406.5 L579.0 405.7 L579.5 404.9 L580.1 404.1 L580.6 403.2 L581.1 402.3 L581.5 401.5 L582.0 400.6 L582.4 399.7 L582.8 398.8 L583.2 397.9 L583.6 397.0 L583.9 396.0 L584.2 395.1 L584.6 394.2 L584.9 393.2 L585.2 392.3 L585.4 391.3 L585.7 390.4 L585.9 389.4 L586.2 388.4 L586.4 387.4 L586.6 386.4 L586.8 385.5 L587.0 384.5 L587.1 383.5 L587.3 382.5 L587.5 381.4 L587.6 380.4 L587.7 379.4 L587.9 378.4 L588.0 377.4 L588.1 376.4 L588.2 375.4 L588.3 374.3 L588.4 373.3 L588.5 372.3 L588.6 371.2 L588.7 370.2 L588.8 369.2 L588.8 368.2 L588.9 367.1 L589.0 366.1 L589.1 365.1 L589.2 364.1 L589.2 363.0 L589.3 362.0 L589.4 361.0 L589.5 360.0 L589.5 358.9 L589.6 357.9 L589.7 356.9 L589.8 355.9 L589.8 354.9 L589.9 353.8 L590.0 352.8 L590.0 351.8 L590.1 350.8 L590.2 349.8 L590.2 348.7 L590.3 347.7 L590.4 346.7 L590.4 345.7 L590.5 344.7 L590.5 343.7 L590.6 342.6 L590.7 341.6 L590.7 340.6 L590.8 339.6 L590.8 338.6 L590.9 337.6 L591.0 336.6 L591.0 335.6 L591.1 334.5 L591.1 333.5 L591.2 332.5 L591.2 331.5 L591.3 330.5 L591.4 329.5 L591.4 328.5 L591.5 327.5 L591.5 326.5 L591.6 325.4 L591.6 324.4 L591.7 323.4 L591.7 322.4 L591.8 321.4 L591.8 320.4 L591.9 319.4 L591.9 318.4 L592.0 317.4 L592.0 316.4 L592.1 315.4 L592.1 314.4 L592.2 313.3 L592.2 312.3 L592.3 311.3 L592.3 310.3 L592.4 309.3 L592.4 308.3 L592.5 307.3 L592.5 306.3 L592.6 305.3 L592.6 304.3 L592.7 303.3 L592.7 302.3 L592.8 301.3 L592.8 300.3 L592.8 299.2 L592.9 298.2 L592.9 297.2 L593.0 296.2 L593.0 295.2 L593.1 294.2 L593.1 293.2 L593.2 292.2 L593.2 291.2 L593.3 290.2 L593.3 289.2 L593.4 288.2 L593.4 287.2 L593.5 286.2 L593.5 285.1 L593.6 284.1 L593.6 283.1 L593.7 282.1 L593.7 281.1 L593.8 280.1 L593.8 279.1 L593.9 278.1 L593.9 277.1 L594.0 276.1 L594.0 275.1 L594.1 274.1 L594.1 273.0 L594.2 272.0 L594.2 271.0 L594.3 270.0 L594.3 269.0 L594.4 268.0 L594.5 267.0 L594.5 266.0 L594.6 265.0 L594.6 263.9 L594.7 262.9 L594.7 261.9 L594.8 260.9 L594.9 259.9 L594.9 258.9 L595.0 257.9 L595.0 256.8 L595.1 255.8 L595.2 254.8 L595.2 253.8 L595.3 252.8 L595.4 251.8 L595.4 250.7 L595.5 249.7 L595.5 248.7 L595.6 247.7 L595.7 246.7 L595.8 245.6 L595.8 244.6 L595.9 243.6 L596.0 242.6 L596.0 241.6 L596.1 240.5 L596.2 239.5 L596.3 238.5 L596.3 237.5 L596.4 236.4 L596.6 233.5 L596.6 234.5 L389.5 234.5 L389.5 424.5 L551.0 424.5Z" fill="#779af7"/>
<path d="M388.6 413.5 L391.5 412.5 L393.0 411.7 L394.5 411.2 L396.1 410.8 L397.7 410.5 L399.3 410.4 L400.8 410.4 L402.4 410.4 L404.1 410.6 L405.7 410.7 L407.3 410.9 L408.9 411.1 L410.5 411.3 L412.1 411.5 L413.7 411.7 L415.3 411.9 L416.9 412.0 L418.5 412.1 L420.1 412.1 L421.7 412.1 L423.3 412.0 L424.9 411.9 L426.6 411.7 L428.2 411.5 L429.8 411.2 L431.4 411.0 L433.0 410.7 L434.6 410.3 L436.2 410.0 L437.8 409.6 L439.4 409.2 L441.1 408.8 L442.7 408.4 L444.3 408.0 L445.9 407.6 L447.5 407.1 L449.1 406.7 L450.7 406.3 L452.3 406.0 L453.9 405.6 L455.4 405.2 L457.0 404.9 L458.6 404.5 L460.2 404.2 L461.8 403.9 L463.4 403.6 L464.9 403.2 L466.5 402.9 L468.1 402.6 L469.7 402.3 L471.3 402.1 L472.8 401.8 L474.4 401.5 L476.0 401.2 L477.6 401.0 L479.1 400.7 L480.7 400.4 L482.3 400.2 L483.9 399.9 L485.4 399.7 L487.0 399.4 L488.6 399.2 L490.2 398.9 L491.7 398.7 L493.3 398.4 L494.9 398.2 L496.5 397.9 L498.1 397.7 L499.7 397.4 L501.3 397.2 L502.8 396.9 L504.4 396.7 L506.0 396.4 L507.6 396.1 L509.2 395.8 L510.8 395.6 L512.4 395.3 L514.1 395.0 L515.7 394.7 L517.3 394.4 L518.9 394.1 L520.5 393.8 L522.1 393.5 L523.8 393.1 L525.4 392.8 L527.0 392.4 L528.7 392.1 L530.3 391.7 L532.0 391.3 L533.6 390.9 L535.2 390.5 L536.9 390.1 L538.5 389.6 L540.1 389.2 L541.7 388.7 L543.3 388.2 L544.8 387.6 L546.4 387.0 L547.9 386.5 L549.4 385.8 L550.9 385.2 L552.3 384.5 L553.8 383.8 L555.2 383.0 L556.5 382.3 L557.9 381.4 L559.1 380.6 L560.4 379.7 L561.6 378.7 L562.8 377.8 L563.9 376.7 L565.0 375.6 L566.0 374.5 L567.0 373.4 L567.9 372.1 L568.8 370.9 L569.6 369.5 L570.4 368.2 L571.1 366.8 L571.8 365.3 L572.5 363.8 L573.1 362.3 L573.6 360.8 L574.2 359.2 L574.7 357.7 L575.2 356.1 L575.6 354.4 L576.1 352.8 L576.5 351.2 L576.9 349.5 L577.2 347.9 L577.6 346.3 L578.0 344.6 L578.3 343.0 L578.6 341.4 L579.0 339.7 L579.3 338.1 L579.6 336.5 L579.8 334.9 L580.1 333.3 L580.4 331.6 L580.6 330.0 L580.9 328.4 L581.1 326.8 L581.4 325.2 L581.6 323.6 L581.8 322.0 L582.0 320.4 L582.2 318.8 L582.4 317.2 L582.6 315.6 L582.8 314.0 L582.9 312.4 L583.1 310.8 L583.2 309.2 L583.4 307.6 L583.5 306.0 L583.7 304.4 L583.8 302.8 L584.0 301.2 L584.1 299.6 L584.2 298.0 L584.3 296.4 L584.4 294.8 L584.5 293.2 L584.7 291.6 L584.8 290.0 L584.9 288.4 L585.0 286.8 L585.1 285.2 L585.2 283.6 L585.2 282.0 L585.3 280.4 L585.4 278.8 L585.5 277.2 L585.6 275.6 L585.7 273.9 L585.8 272.3 L585.9 270.7 L586.0 269.1 L586.1 267.5 L586.2 265.9 L586.3 264.3 L586.3 262.6 L586.4 261.0 L586.5 259.4 L586.7 257.8 L586.8 256.1 L586.9 254.5 L587.0 252.9 L587.1 251.2 L587.2 249.6 L587.3 248.0 L587.5 246.3 L587.6 244.7 L587.7 243.0 L587.9 241.4 L588.0 239.7 L588.2 238.1 L588.3 236.4 L588.6 233.4 L588.6 234.5 L389.5 234.5 L389.5 413.5Z" fill="#a3c2fe"/>
<path d="M388.5 378.0 L391.5 377.7 L392.9 377.6 L394.3 377.4 L395.8 377.3 L397.2 377.3 L398.6 377.3 L400.0 377.3 L401.5 377.3 L402.9 377.4 L404.3 377.5 L405.8 377.5 L407.2 377.6 L408.6 377.7 L410.0 377.8 L411.5 377.9 L412.9 377.9 L414.3 377.9 L415.7 377.9 L417.2 377.9 L418.6 377.9 L420.0 377.8 L421.4 377.7 L422.9 377.6 L424.3 377.5 L425.7 377.4 L427.1 377.2 L428.5 377.1 L430.0 376.9 L431.4 376.7 L432.8 376.5 L434.2 376.3 L435.6 376.1 L437.0 375.9 L438.5 375.7 L439.9 375.4 L441.3 375.2 L442.7 375.0 L444.1 374.7 L445.5 374.5 L446.9 374.2 L448.3 374.0 L449.7 373.8 L451.2 373.5 L452.6 373.3 L454.0 373.0 L455.4 372.8 L456.8 372.5 L458.2 372.2 L459.6 372.0 L461.0 371.7 L462.4 371.5 L463.8 371.2 L465.2 370.9 L466.6 370.7 L468.0 370.4 L469.4 370.1 L470.8 369.8 L472.2 369.6 L473.6 369.3 L475.0 369.0 L476.4 368.7 L477.8 368.4 L479.2 368.1 L480.6 367.9 L482.0 367.6 L483.4 367.3 L484.8 367.0 L486.2 366.7 L487.6 366.4 L489.0 366.1 L490.4 365.8 L491.8 365.5 L493.2 365.1 L494.6 364.8 L496.0 364.5 L497.4 364.2 L498.8 363.9 L500.2 363.6 L501.6 363.2 L502.9 362.9 L504.3 362.6 L505.7 362.3 L507.1 361.9 L508.5 361.6 L509.9 361.3 L511.3 360.9 L512.7 360.6 L514.1 360.2 L515.5 359.9 L516.9 359.6 L518.2 359.2 L519.6 358.9 L521.0 358.5 L522.4 358.1 L523.8 357.8 L525.2 357.4 L526.6 357.0 L528.0 356.7 L529.3 356.3 L530.7 355.9 L532.1 355.5 L533.5 355.1 L534.8 354.6 L536.2 354.2 L537.6 353.8 L539.0 353.3 L540.3 352.9 L541.7 352.4 L543.0 351.9 L544.4 351.4 L545.7 350.8 L547.1 350.3 L548.4 349.7 L549.7 349.1 L551.0 348.5 L552.3 347.9 L553.6 347.2 L554.8 346.5 L556.0 345.7 L557.2 344.9 L558.3 344.1 L559.4 343.2 L560.4 342.3 L561.5 341.3 L562.4 340.3 L563.4 339.3 L564.3 338.2 L565.2 337.1 L566.0 336.0 L566.8 334.8 L567.5 333.6 L568.2 332.4 L568.8 331.2 L569.4 329.9 L570.0 328.6 L570.5 327.2 L571.0 325.9 L571.5 324.5 L571.9 323.1 L572.3 321.8 L572.7 320.4 L573.1 319.0 L573.5 317.6 L573.8 316.2 L574.2 314.8 L574.5 313.4 L574.8 312.0 L575.1 310.6 L575.4 309.2 L575.7 307.8 L576.0 306.4 L576.2 305.0 L576.5 303.5 L576.7 302.1 L577.0 300.7 L577.2 299.3 L577.4 297.9 L577.6 296.5 L577.8 295.0 L577.9 293.6 L578.1 292.2 L578.3 290.8 L578.4 289.3 L578.6 287.9 L578.7 286.5 L578.9 285.0 L579.0 283.6 L579.1 282.2 L579.2 280.8 L579.3 279.3 L579.5 277.9 L579.6 276.5 L579.7 275.0 L579.8 273.6 L579.8 272.2 L579.9 270.7 L580.0 269.3 L580.1 267.9 L580.2 266.4 L580.3 265.0 L580.4 263.6 L580.4 262.1 L580.5 260.7 L580.6 259.3 L580.7 257.8 L580.8 256.4 L580.9 255.0 L580.9 253.6 L581.0 252.1 L581.1 250.7 L581.2 249.3 L581.3 247.9 L581.4 246.4 L581.5 245.0 L581.6 243.6 L581.7 242.2 L581.8 240.8 L581.9 239.4 L582.0 237.9 L582.2 236.5 L582.4 233.5 L582.4 234.5 L389.5 234.5 L389.5 378.0Z" fill="#ccd9ed"/>
<path d="M388.5 347.5 L391.5 347.3 L392.8 347.2 L394.0 347.0 L395.3 346.9 L396.5 346.8 L397.8 346.7 L399.0 346.7 L400.3 346.6 L401.6 346.5 L402.8 346.4 L404.1 346.4 L405.4 346.3 L406.6 346.2 L407.9 346.2 L409.1 346.1 L410.4 346.0 L411.7 346.0 L412.9 345.9 L414.2 345.9 L415.4 345.8 L416.7 345.8 L418.0 345.7 L419.2 345.6 L420.5 345.6 L421.8 345.5 L423.0 345.5 L424.3 345.4 L425.5 345.3 L426.8 345.3 L428.1 345.2 L429.3 345.1 L430.6 345.0 L431.8 344.9 L433.1 344.8 L434.4 344.7 L435.6 344.6 L436.9 344.5 L438.1 344.4 L439.4 344.3 L440.6 344.1 L441.9 344.0 L443.1 343.8 L444.4 343.7 L445.6 343.5 L446.9 343.3 L448.1 343.2 L449.4 343.0 L450.6 342.8 L451.9 342.6 L453.1 342.4 L454.4 342.2 L455.6 342.0 L456.9 341.7 L458.1 341.5 L459.4 341.3 L460.6 341.1 L461.8 340.8 L463.1 340.6 L464.3 340.4 L465.6 340.1 L466.8 339.9 L468.1 339.6 L469.3 339.4 L470.5 339.2 L471.8 338.9 L473.0 338.7 L474.3 338.4 L475.5 338.2 L476.7 337.9 L478.0 337.7 L479.2 337.5 L480.5 337.2 L481.7 337.0 L483.0 336.7 L484.2 336.5 L485.4 336.2 L486.7 336.0 L487.9 335.7 L489.1 335.5 L490.4 335.2 L491.6 335.0 L492.8 334.7 L494.1 334.5 L495.3 334.2 L496.5 334.0 L497.8 333.7 L499.0 333.4 L500.2 333.1 L501.4 332.9 L502.7 332.6 L503.9 332.3 L505.1 332.0 L506.3 331.7 L507.5 331.4 L508.8 331.1 L510.0 330.8 L511.2 330.5 L512.4 330.1 L513.6 329.8 L514.8 329.5 L516.0 329.1 L517.2 328.8 L518.4 328.4 L519.6 328.1 L520.8 327.7 L522.0 327.3 L523.2 327.0 L524.4 326.6 L525.6 326.2 L526.8 325.8 L528.0 325.4 L529.2 325.0 L530.4 324.6 L531.7 324.2 L532.9 323.8 L534.1 323.4 L535.3 322.9 L536.5 322.5 L537.7 322.0 L538.9 321.6 L540.1 321.1 L541.3 320.6 L542.5 320.1 L543.7 319.6 L544.9 319.1 L546.0 318.6 L547.2 318.0 L548.3 317.5 L549.4 316.9 L550.5 316.3 L551.6 315.6 L552.7 315.0 L553.7 314.3 L554.7 313.6 L555.7 312.9 L556.7 312.1 L557.7 311.4 L558.6 310.6 L559.5 309.7 L560.4 308.9 L561.2 308.0 L562.1 307.1 L562.8 306.1 L563.6 305.1 L564.3 304.1 L565.0 303.1 L565.7 302.0 L566.3 301.0 L566.9 299.9 L567.5 298.7 L568.0 297.6 L568.6 296.5 L569.0 295.3 L569.5 294.2 L569.9 293.0 L570.3 291.8 L570.7 290.6 L571.1 289.4 L571.4 288.2 L571.7 287.0 L572.0 285.7 L572.2 284.5 L572.4 283.3 L572.7 282.0 L572.9 280.8 L573.0 279.5 L573.2 278.2 L573.3 277.0 L573.5 275.7 L573.6 274.4 L573.7 273.1 L573.8 271.9 L573.9 270.6 L574.0 269.3 L574.0 268.0 L574.1 266.7 L574.2 265.4 L574.2 264.1 L574.3 262.9 L574.3 261.6 L574.4 260.3 L574.4 259.0 L574.4 257.7 L574.5 256.4 L574.5 255.2 L574.6 253.9 L574.6 252.6 L574.7 251.4 L574.8 250.1 L574.9 248.8 L574.9 247.6 L575.0 246.3 L575.1 245.1 L575.3 243.9 L575.4 242.6 L575.5 241.4 L575.7 240.2 L575.9 239.0 L576.1 237.8 L576.3 236.6 L576.8 233.6 L576.8 234.5 L389.5 234.5 L389.5 347.5Z" fill="#ecd3c5"/>
<path d="M388.5 317.4 L391.5 317.1 L392.6 317.0 L393.6 316.9 L394.7 316.8 L395.8 316.7 L396.9 316.6 L397.9 316.5 L399.0 316.4 L400.1 316.3 L401.2 316.2 L402.2 316.1 L403.3 316.0 L404.4 315.9 L405.5 315.8 L406.5 315.7 L407.6 315.6 L408.7 315.5 L409.8 315.4 L410.8 315.3 L411.9 315.2 L413.0 315.1 L414.1 315.0 L415.1 314.9 L416.2 314.8 L417.3 314.7 L418.4 314.6 L419.4 314.5 L420.5 314.4 L421.6 314.2 L422.6 314.1 L423.7 314.0 L424.8 313.9 L425.9 313.8 L426.9 313.7 L428.0 313.6 L429.1 313.4 L430.2 313.3 L431.2 313.2 L432.3 313.1 L433.4 313.0 L434.4 312.8 L435.5 312.7 L436.6 312.6 L437.7 312.4 L438.7 312.3 L439.8 312.2 L440.9 312.1 L441.9 311.9 L443.0 311.8 L444.1 311.6 L445.1 311.5 L446.2 311.4 L447.3 311.2 L448.3 311.1 L449.4 310.9 L450.5 310.8 L451.5 310.6 L452.6 310.5 L453.7 310.3 L454.7 310.2 L455.8 310.0 L456.9 309.9 L457.9 309.7 L459.0 309.5 L460.0 309.4 L461.1 309.2 L462.2 309.0 L463.2 308.9 L464.3 308.7 L465.4 308.5 L466.4 308.3 L467.5 308.2 L468.5 308.0 L469.6 307.8 L470.7 307.6 L471.7 307.4 L472.8 307.2 L473.8 307.0 L474.9 306.8 L475.9 306.6 L477.0 306.4 L478.0 306.2 L479.1 306.0 L480.2 305.8 L481.2 305.6 L482.3 305.4 L483.3 305.1 L484.4 304.9 L485.4 304.7 L486.5 304.5 L487.5 304.2 L488.6 304.0 L489.6 303.8 L490.7 303.5 L491.7 303.3 L492.8 303.0 L493.8 302.8 L494.9 302.5 L495.9 302.3 L496.9 302.0 L498.0 301.8 L499.0 301.5 L500.1 301.2 L501.1 301.0 L502.2 300.7 L503.2 300.4 L504.2 300.1 L505.3 299.8 L506.3 299.6 L507.4 299.3 L508.4 299.0 L509.4 298.7 L510.5 298.4 L511.5 298.1 L512.5 297.7 L513.6 297.4 L514.6 297.1 L515.6 296.8 L516.7 296.5 L517.7 296.1 L518.7 295.8 L519.8 295.5 L520.8 295.1 L521.8 294.8 L522.8 294.4 L523.9 294.1 L524.9 293.7 L525.9 293.3 L526.9 293.0 L527.9 292.6 L529.0 292.2 L530.0 291.8 L531.0 291.4 L532.0 291.0 L533.0 290.6 L534.0 290.1 L535.0 289.7 L536.0 289.3 L537.0 288.8 L537.9 288.4 L538.9 287.9 L539.9 287.4 L540.9 286.9 L541.8 286.4 L542.8 285.9 L543.7 285.4 L544.7 284.9 L545.6 284.3 L546.5 283.8 L547.4 283.2 L548.3 282.6 L549.2 282.0 L550.1 281.4 L550.9 280.7 L551.8 280.1 L552.6 279.4 L553.4 278.7 L554.1 278.0 L554.9 277.3 L555.6 276.5 L556.3 275.7 L557.0 274.9 L557.6 274.1 L558.3 273.3 L558.9 272.4 L559.5 271.6 L560.1 270.7 L560.6 269.8 L561.1 268.9 L561.7 267.9 L562.1 267.0 L562.6 266.0 L563.1 265.1 L563.5 264.1 L563.9 263.1 L564.3 262.1 L564.7 261.0 L565.0 260.0 L565.4 259.0 L565.7 257.9 L566.0 256.9 L566.3 255.8 L566.6 254.8 L566.8 253.7 L567.1 252.6 L567.3 251.6 L567.5 250.5 L567.7 249.4 L567.9 248.3 L568.1 247.2 L568.2 246.1 L568.4 245.0 L568.5 244.0 L568.6 242.9 L568.7 241.8 L568.8 240.7 L568.9 239.6 L568.9 238.6 L569.0 237.5 L569.0 236.4 L569.2 233.4 L569.2 234.5 L389.5 234.5 L389.5 317.4Z" fill="#f7b093"/>
<path d="M388.5 287.2 L391.5 286.7 L392.4 286.5 L393.3 286.4 L394.1 286.3 L395.0 286.1 L395.9 286.0 L396.7 285.8 L397.6 285.7 L398.5 285.6 L399.4 285.4 L400.2 285.3 L401.1 285.1 L402.0 285.0 L402.9 284.9 L403.7 284.7 L404.6 284.6 L405.5 284.5 L406.4 284.3 L407.2 284.2 L408.1 284.1 L409.0 284.0 L409.9 283.8 L410.7 283.7 L411.6 283.6 L412.5 283.4 L413.4 283.3 L414.2 283.2 L415.1 283.1 L416.0 282.9 L416.9 282.8 L417.7 282.7 L418.6 282.6 L419.5 282.4 L420.4 282.3 L421.2 282.2 L422.1 282.1 L423.0 282.0 L423.9 281.8 L424.7 281.7 L425.6 281.6 L426.5 281.5 L427.4 281.3 L428.3 281.2 L429.1 281.1 L430.0 281.0 L430.9 280.9 L431.8 280.7 L432.6 280.6 L433.5 280.5 L434.4 280.4 L435.3 280.3 L436.1 280.1 L437.0 280.0 L437.9 279.9 L438.8 279.8 L439.6 279.6 L440.5 279.5 L441.4 279.4 L442.3 279.3 L443.1 279.1 L444.0 279.0 L444.9 278.9 L445.8 278.8 L446.6 278.6 L447.5 278.5 L448.4 278.4 L449.3 278.2 L450.1 278.1 L451.0 278.0 L451.9 277.9 L452.8 277.7 L453.6 277.6 L454.5 277.5 L455.4 277.3 L456.3 277.2 L457.1 277.1 L458.0 276.9 L458.9 276.8 L459.8 276.7 L460.6 276.5 L461.5 276.4 L462.4 276.2 L463.3 276.1 L464.1 275.9 L465.0 275.8 L465.9 275.7 L466.8 275.5 L467.6 275.4 L468.5 275.2 L469.4 275.1 L470.3 274.9 L471.1 274.8 L472.0 274.6 L472.9 274.5 L473.8 274.3 L474.6 274.1 L475.5 274.0 L476.4 273.8 L477.3 273.7 L478.1 273.5 L479.0 273.3 L479.9 273.2 L480.8 273.0 L481.6 272.8 L482.5 272.7 L483.4 272.5 L484.2 272.3 L485.1 272.1 L486.0 272.0 L486.9 271.8 L487.7 271.6 L488.6 271.4 L489.5 271.2 L490.4 271.1 L491.2 270.9 L492.1 270.7 L493.0 270.5 L493.8 270.3 L494.7 270.1 L495.6 269.9 L496.5 269.7 L497.3 269.5 L498.2 269.3 L499.1 269.1 L499.9 268.9 L500.8 268.7 L501.7 268.5 L502.5 268.2 L503.4 268.0 L504.3 267.8 L505.1 267.6 L506.0 267.3 L506.9 267.1 L507.7 266.9 L508.6 266.6 L509.5 266.4 L510.3 266.1 L511.2 265.9 L512.0 265.6 L512.9 265.4 L513.7 265.1 L514.6 264.8 L515.4 264.6 L516.3 264.3 L517.1 264.0 L517.9 263.7 L518.8 263.4 L519.6 263.1 L520.4 262.8 L521.3 262.5 L522.1 262.2 L522.9 261.9 L523.7 261.5 L524.5 261.2 L525.3 260.9 L526.1 260.5 L526.9 260.2 L527.7 259.8 L528.5 259.4 L529.3 259.1 L530.1 258.7 L530.9 258.3 L531.7 257.9 L532.4 257.5 L533.2 257.1 L534.0 256.7 L534.7 256.2 L535.5 255.8 L536.2 255.4 L537.0 254.9 L537.7 254.4 L538.4 254.0 L539.1 253.5 L539.9 253.0 L540.6 252.5 L541.3 252.0 L542.0 251.5 L542.7 251.0 L543.4 250.4 L544.0 249.9 L544.7 249.3 L545.4 248.8 L546.0 248.2 L546.7 247.6 L547.3 247.0 L548.0 246.4 L548.6 245.8 L549.2 245.2 L549.9 244.5 L550.5 243.9 L551.1 243.2 L551.7 242.6 L552.3 241.9 L552.8 241.2 L553.4 240.5 L554.0 239.8 L554.5 239.0 L555.1 238.3 L555.6 237.5 L556.1 236.8 L557.9 234.3 L557.9 234.5 L389.5 234.5 L389.5 287.2Z" fill="#eb7d62"/>
<path d="M388.6 255.1 L391.6 254.5 L392.0 254.4 L392.4 254.3 L392.9 254.2 L393.3 254.1 L393.8 254.1 L394.2 254.0 L394.6 253.9 L395.1 253.8 L395.5 253.7 L396.0 253.6 L396.4 253.5 L396.9 253.4 L397.3 253.3 L397.7 253.2 L398.2 253.1 L398.6 253.0 L399.1 253.0 L399.5 252.9 L400.0 252.8 L400.4 252.7 L400.8 252.6 L401.3 252.5 L401.7 252.4 L402.2 252.3 L402.6 252.3 L403.1 252.2 L403.5 252.1 L404.0 252.0 L404.4 251.9 L404.8 251.8 L405.3 251.7 L405.7 251.6 L406.2 251.6 L406.6 251.5 L407.1 251.4 L407.5 251.3 L407.9 251.2 L408.4 251.1 L408.8 251.0 L409.3 251.0 L409.7 250.9 L410.2 250.8 L410.6 250.7 L411.1 250.6 L411.5 250.5 L411.9 250.5 L412.4 250.4 L412.8 250.3 L413.3 250.2 L413.7 250.1 L414.2 250.0 L414.6 250.0 L415.1 249.9 L415.5 249.8 L415.9 249.7 L416.4 249.6 L416.8 249.5 L417.3 249.5 L417.7 249.4 L418.2 249.3 L418.6 249.2 L419.1 249.1 L419.5 249.0 L420.0 249.0 L420.4 248.9 L420.8 248.8 L421.3 248.7 L421.7 248.6 L422.2 248.6 L422.6 248.5 L423.1 248.4 L423.5 248.3 L424.0 248.2 L424.4 248.1 L424.9 248.1 L425.3 248.0 L425.7 247.9 L426.2 247.8 L426.6 247.7 L427.1 247.7 L427.5 247.6 L428.0 247.5 L428.4 247.4 L428.9 247.3 L429.3 247.2 L429.8 247.2 L430.2 247.1 L430.6 247.0 L431.1 246.9 L431.5 246.8 L432.0 246.7 L432.4 246.7 L432.9 246.6 L433.3 246.5 L433.8 246.4 L434.2 246.3 L434.7 246.3 L435.1 246.2 L435.5 246.1 L436.0 246.0 L436.4 245.9 L436.9 245.8 L437.3 245.8 L437.8 245.7 L438.2 245.6 L438.7 245.5 L439.1 245.4 L439.5 245.3 L440.0 245.3 L440.4 245.2 L440.9 245.1 L441.3 245.0 L441.8 244.9 L442.2 244.8 L442.7 244.7 L443.1 244.7 L443.6 244.6 L444.0 244.5 L444.4 244.4 L444.9 244.3 L445.3 244.2 L445.8 244.1 L446.2 244.1 L446.7 244.0 L447.1 243.9 L447.6 243.8 L448.0 243.7 L448.4 243.6 L448.9 243.5 L449.3 243.4 L449.8 243.3 L450.2 243.3 L450.7 243.2 L451.1 243.1 L451.6 243.0 L452.0 242.9 L452.4 242.8 L452.9 242.7 L453.3 242.6 L453.8 242.5 L454.2 242.4 L454.7 242.4 L455.1 242.3 L455.5 242.2 L456.0 242.1 L456.4 242.0 L456.9 241.9 L457.3 241.8 L457.8 241.7 L458.2 241.6 L458.6 241.5 L459.1 241.4 L459.5 241.3 L460.0 241.2 L460.4 241.1 L460.9 241.0 L461.3 240.9 L461.7 240.8 L462.2 240.8 L462.6 240.7 L463.1 240.6 L463.5 240.5 L464.0 240.4 L464.4 240.3 L464.8 240.2 L465.3 240.1 L465.7 240.0 L466.2 239.9 L466.6 239.8 L467.1 239.7 L467.5 239.6 L467.9 239.5 L468.4 239.4 L468.8 239.2 L469.3 239.1 L469.7 239.0 L470.1 238.9 L470.6 238.8 L471.0 238.7 L471.5 238.6 L471.9 238.5 L472.3 238.4 L472.8 238.3 L473.2 238.2 L473.7 238.1 L474.1 238.0 L474.5 237.9 L475.0 237.8 L475.4 237.6 L475.9 237.5 L476.3 237.4 L476.7 237.3 L477.2 237.2 L477.6 237.1 L478.0 237.0 L478.5 236.9 L478.9 236.7 L479.4 236.6 L479.8 236.5 L482.7 235.8 L482.7 234.5 L389.5 234.5 L389.5 255.1Z" fill="#ca3b37"/>
</g>
<rect x="39.50" y="3.50" width="225.00" height="186.35" fill="none" stroke="#000" stroke-width="0.76"/>
<text x="39.50" y="204.15" font-size="9.60" text-anchor="middle">0</text>
<text x="32.81" y="194.05" font-size="9.60" text-anchor="end">0</text>
<text x="84.50" y="204.15" font-size="9.60" text-anchor="middle">200</text>
<text x="32.81" y="156.78" font-size="9.60" text-anchor="end">20</text>
<text x="129.50" y="204.15" font-size="9.60" text-anchor="middle">400</text>
<text x="32.81" y="119.51" font-size="9.60" text-anchor="end">40</text>
<text x="174.50" y="204.15" font-size="9.60" text-anchor="middle">600</text>
<text x="32.81" y="82.24" font-size="9.60" text-anchor="end">60</text>
<text x="219.50" y="204.15" font-size="9.60" text-anchor="middle">800</text>
<text x="32.81" y="44.97" font-size="9.60" text-anchor="end">80</text>
<text x="264.50" y="204.15" font-size="9.60" text-anchor="middle">1000</text>
<text x="32.81" y="7.70" font-size="9.60" text-anchor="end">100</text>
<text x="152.00" y="218.45" font-size="11.55" text-anchor="middle">Temperature (<tspan font-size="8.78" dy="-3.95">∘</tspan><tspan font-style="italic" dy="3.95">C</tspan>)</text>
<text x="8.90" y="96.92" font-size="11.40" text-anchor="middle" transform="rotate(-90 8.90 96.92)">Composition (% IN718)</text>
<rect x="278.50" y="172.71" width="9.30" height="17.34" fill="#485fd1"/>
<rect x="278.50" y="155.77" width="9.30" height="17.34" fill="#6485ec"/>
<rect x="278.50" y="138.83" width="9.30" height="17.34" fill="#85a8fc"/>
<rect x="278.50" y="121.89" width="9.30" height="17.34" fill="#a5c3fe"/>
<rect x="278.50" y="104.95" width="9.30" height="17.34" fill="#c3d5f4"/>
<rect x="278.50" y="88.00" width="9.30" height="17.34" fill="#dddcdc"/>
<rect x="278.50" y="71.06" width="9.30" height="17.34" fill="#f1cdba"/>
<rect x="278.50" y="54.12" width="9.30" height="17.34" fill="#f7b396"/>
<rect x="278.50" y="37.18" width="9.30" height="17.34" fill="#f29072"/>
<rect x="278.50" y="20.24" width="9.30" height="17.34" fill="#e0654f"/>
<rect x="278.50" y="3.30" width="9.30" height="17.34" fill="#c43032"/>
<rect x="278.50" y="3.50" width="9.30" height="186.35" fill="none" stroke="#000" stroke-width="0.76"/>
<text x="294.48" y="193.90" font-size="9.60" text-anchor="start">10.5</text>
<text x="294.48" y="160.02" font-size="9.60" text-anchor="start">13.5</text>
<text x="294.48" y="126.14" font-size="9.60" text-anchor="start">16.5</text>
<text x="294.48" y="92.25" font-size="9.60" text-anchor="start">19.5</text>
<text x="294.48" y="58.37" font-size="9.60" text-anchor="start">22.5</text>
<text x="294.48" y="24.49" font-size="9.60" text-anchor="start">25.5</text>
<path d="M39.50 189.85v3.34M39.50 189.85h-3.34M84.50 189.85v3.34M39.50 152.58h-3.34M129.50 189.85v3.34M39.50 115.31h-3.34M174.50 189.85v3.34M39.50 78.04h-3.34M219.50 189.85v3.34M39.50 40.77h-3.34M264.50 189.85v3.34M39.50 3.50h-3.34M287.80 189.85h3.34M287.80 155.97h3.34M287.80 122.09h3.34M287.80 88.20h3.34M287.80 54.32h3.34M287.80 20.44h3.34" stroke="#000" stroke-width="0.76" fill="none"/>
<rect x="391.50" y="3.50" width="225.00" height="186.35" fill="none" stroke="#000" stroke-width="0.76"/>
<text x="391.50" y="204.15" font-size="9.60" text-anchor="middle">0</text>
<text x="384.82" y="194.05" font-size="9.60" text-anchor="end">0</text>
<text x="436.50" y="204.15" font-size="9.60" text-anchor="middle">200</text>
<text x="384.82" y="156.78" font-size="9.60" text-anchor="end">20</text>
<text x="481.50" y="204.15" font-size="9.60" text-anchor="middle">400</text>
<text x="384.82" y="119.51" font-size="9.60" text-anchor="end">40</text>
<text x="526.50" y="204.15" font-size="9.60" text-anchor="middle">600</text>
<text x="384.82" y="82.24" font-size="9.60" text-anchor="end">60</text>
<text x="571.50" y="204.15" font-size="9.60" text-anchor="middle">800</text>
<text x="384.82" y="44.97" font-size="9.60" text-anchor="end">80</text>
<text x="616.50" y="204.15" font-size="9.60" text-anchor="middle">1000</text>
<text x="384.82" y="7.70" font-size="9.60" text-anchor="end">100</text>
<text x="503.50" y="218.45" font-size="11.55" text-anchor="middle">Temperature (<tspan font-size="8.78" dy="-3.95">∘</tspan><tspan font-style="italic" dy="3.95">C</tspan>)</text>
<text x="360.90" y="96.92" font-size="11.40" text-anchor="middle" transform="rotate(-90 360.90 96.92)">Composition (% IN718)</text>
<rect x="630.50" y="174.12" width="9.30" height="15.93" fill="#465ecf"/>
<rect x="630.50" y="158.59" width="9.30" height="15.93" fill="#6282ea"/>
<rect x="630.50" y="143.06" width="9.30" height="15.93" fill="#7ea1fa"/>
<rect x="630.50" y="127.53" width="9.30" height="15.93" fill="#9bbcff"/>
<rect x="630.50" y="112.00" width="9.30" height="15.93" fill="#b9d0f9"/>
<rect x="630.50" y="96.47" width="9.30" height="15.93" fill="#d2dbe8"/>
<rect x="630.50" y="80.95" width="9.30" height="15.93" fill="#e7d7ce"/>
<rect x="630.50" y="65.42" width="9.30" height="15.93" fill="#f5c4ac"/>
<rect x="630.50" y="49.89" width="9.30" height="15.93" fill="#f7a98b"/>
<rect x="630.50" y="34.36" width="9.30" height="15.93" fill="#ef886b"/>
<rect x="630.50" y="18.83" width="9.30" height="15.93" fill="#dd5f4b"/>
<rect x="630.50" y="3.30" width="9.30" height="15.93" fill="#c32e31"/>
<rect x="630.50" y="3.50" width="9.30" height="186.35" fill="none" stroke="#000" stroke-width="0.76"/>
<text x="646.48" y="193.90" font-size="9.60" text-anchor="start">12.0</text>
<text x="646.48" y="162.84" font-size="9.60" text-anchor="start">13.6</text>
<text x="646.48" y="131.78" font-size="9.60" text-anchor="start">15.2</text>
<text x="646.48" y="100.72" font-size="9.60" text-anchor="start">16.8</text>
<text x="646.48" y="69.67" font-size="9.60" text-anchor="start">18.4</text>
<text x="646.48" y="38.61" font-size="9.60" text-anchor="start">20.0</text>
<text x="646.48" y="7.55" font-size="9.60" text-anchor="start">21.6</text>
<path d="M391.50 189.85v3.34M391.50 189.85h-3.34M436.50 189.85v3.34M391.50 152.58h-3.34M481.50 189.85v3.34M391.50 115.31h-3.34M526.50 189.85v3.34M391.50 78.04h-3.34M571.50 189.85v3.34M391.50 40.77h-3.34M616.50 189.85v3.34M391.50 3.50h-3.34M639.80 189.85h3.34M639.80 158.79h3.34M639.80 127.73h3.34M639.80 96.67h3.34M639.80 65.62h3.34M639.80 34.56h3.34M639.80 3.50h3.34" stroke="#000" stroke-width="0.76" fill="none"/>
<rect x="39.50" y="236.50" width="225.00" height="186.00" fill="none" stroke="#000" stroke-width="0.76"/>
<text x="39.50" y="436.80" font-size="9.60" text-anchor="middle">0</text>
<text x="32.81" y="426.70" font-size="9.60" text-anchor="end">0</text>
<text x="84.50" y="436.80" font-size="9.60" text-anchor="middle">200</text>
<text x="32.81" y="389.50" font-size="9.60" text-anchor="end">20</text>
<text x="129.50" y="436.80" font-size="9.60" text-anchor="middle">400</text>
<text x="32.81" y="352.30" font-size="9.60" text-anchor="end">40</text>
<text x="174.50" y="436.80" font-size="9.60" text-anchor="middle">600</text>
<text x="32.81" y="315.10" font-size="9.60" text-anchor="end">60</text>
<text x="219.50" y="436.80" font-size="9.60" text-anchor="middle">800</text>
<text x="32.81" y="277.90" font-size="9.60" text-anchor="end">80</text>
<text x="264.50" y="436.80" font-size="9.60" text-anchor="middle">1000</text>
<text x="32.81" y="240.70" font-size="9.60" text-anchor="end">100</text>
<text x="152.00" y="451.10" font-size="11.55" text-anchor="middle">Temperature (<tspan font-size="8.78" dy="-3.95">∘</tspan><tspan font-style="italic" dy="3.95">C</tspan>)</text>
<text x="8.90" y="329.75" font-size="11.40" text-anchor="middle" transform="rotate(-90 8.90 329.75)">Composition (% IN718)</text>
<rect x="278.20" y="405.39" width="9.30" height="17.31" fill="#485fd1"/>
<rect x="278.20" y="388.48" width="9.30" height="17.31" fill="#6485ec"/>
<rect x="278.20" y="371.57" width="9.30" height="17.31" fill="#85a8fc"/>
<rect x="278.20" y="354.66" width="9.30" height="17.31" fill="#a5c3fe"/>
<rect x="278.20" y="337.75" width="9.30" height="17.31" fill="#c3d5f4"/>
<rect x="278.20" y="320.85" width="9.30" height="17.31" fill="#dddcdc"/>
<rect x="278.20" y="303.94" width="9.30" height="17.31" fill="#f1cdba"/>
<rect x="278.20" y="287.03" width="9.30" height="17.31" fill="#f7b396"/>
<rect x="278.20" y="270.12" width="9.30" height="17.31" fill="#f29072"/>
<rect x="278.20" y="253.21" width="9.30" height="17.31" fill="#e0654f"/>
<rect x="278.20" y="236.30" width="9.30" height="17.31" fill="#c43032"/>
<rect x="278.20" y="236.50" width="9.30" height="186.00" fill="none" stroke="#000" stroke-width="0.76"/>
<text x="294.18" y="426.55" font-size="9.60" text-anchor="start">112</text>
<text x="294.18" y="392.73" font-size="9.60" text-anchor="start">128</text>
<text x="294.18" y="358.91" font-size="9.60" text-anchor="start">144</text>
<text x="294.18" y="325.10" font-size="9.60" text-anchor="start">160</text>
<text x="294.18" y="291.28" font-size="9.60" text-anchor="start">176</text>
<text x="294.18" y="257.46" font-size="9.60" text-anchor="start">192</text>
<path d="M39.50 422.50v3.34M39.50 422.50h-3.34M84.50 422.50v3.34M39.50 385.30h-3.34M129.50 422.50v3.34M39.50 348.10h-3.34M174.50 422.50v3.34M39.50 310.90h-3.34M219.50 422.50v3.34M39.50 273.70h-3.34M264.50 422.50v3.34M39.50 236.50h-3.34M287.50 422.50h3.34M287.50 388.68h3.34M287.50 354.86h3.34M287.50 321.05h3.34M287.50 287.23h3.34M287.50 253.41h3.34" stroke="#000" stroke-width="0.76" fill="none"/>
<rect x="391.50" y="236.50" width="225.00" height="186.00" fill="none" stroke="#000" stroke-width="0.76"/>
<text x="391.50" y="436.80" font-size="9.60" text-anchor="middle">0</text>
<text x="384.82" y="426.70" font-size="9.60" text-anchor="end">0</text>
<text x="436.50" y="436.80" font-size="9.60" text-anchor="middle">200</text>
<text x="384.82" y="389.50" font-size="9.60" text-anchor="end">20</text>
<text x="481.50" y="436.80" font-size="9.60" text-anchor="middle">400</text>
<text x="384.82" y="352.30" font-size="9.60" text-anchor="end">40</text>
<text x="526.50" y="436.80" font-size="9.60" text-anchor="middle">600</text>
<text x="384.82" y="315.10" font-size="9.60" text-anchor="end">60</text>
<text x="571.50" y="436.80" font-size="9.60" text-anchor="middle">800</text>
<text x="384.82" y="277.90" font-size="9.60" text-anchor="end">80</text>
<text x="616.50" y="436.80" font-size="9.60" text-anchor="middle">1000</text>
<text x="384.82" y="240.70" font-size="9.60" text-anchor="end">100</text>
<text x="503.50" y="451.10" font-size="11.55" text-anchor="middle">Temperature (<tspan font-size="8.78" dy="-3.95">∘</tspan><tspan font-style="italic" dy="3.95">C</tspan>)</text>
<text x="360.90" y="329.75" font-size="11.40" text-anchor="middle" transform="rotate(-90 360.90 329.75)">Composition (% IN718)</text>
<rect x="630.20" y="399.05" width="9.30" height="23.65" fill="#4e68d8"/>
<rect x="630.20" y="375.80" width="9.30" height="23.65" fill="#779af7"/>
<rect x="630.20" y="352.55" width="9.30" height="23.65" fill="#a3c2fe"/>
<rect x="630.20" y="329.30" width="9.30" height="23.65" fill="#ccd9ed"/>
<rect x="630.20" y="306.05" width="9.30" height="23.65" fill="#ecd3c5"/>
<rect x="630.20" y="282.80" width="9.30" height="23.65" fill="#f7b093"/>
<rect x="630.20" y="259.55" width="9.30" height="23.65" fill="#eb7d62"/>
<rect x="630.20" y="236.30" width="9.30" height="23.65" fill="#ca3b37"/>
<rect x="630.20" y="236.50" width="9.30" height="186.00" fill="none" stroke="#000" stroke-width="0.76"/>
<text x="646.18" y="426.55" font-size="9.60" text-anchor="start">0</text>
<text x="646.18" y="403.30" font-size="9.60" text-anchor="start">150</text>
<text x="646.18" y="380.05" font-size="9.60" text-anchor="start">300</text>
<text x="646.18" y="356.80" font-size="9.60" text-anchor="start">450</text>
<text x="646.18" y="333.55" font-size="9.60" text-anchor="start">600</text>
<text x="646.18" y="310.30" font-size="9.60" text-anchor="start">750</text>
<text x="646.18" y="287.05" font-size="9.60" text-anchor="start">900</text>
<text x="646.18" y="263.80" font-size="9.60" text-anchor="start">1050</text>
<text x="646.18" y="240.55" font-size="9.60" text-anchor="start">1200</text>
<path d="M391.50 422.50v3.34M391.50 422.50h-3.34M436.50 422.50v3.34M391.50 385.30h-3.34M481.50 422.50v3.34M391.50 348.10h-3.34M526.50 422.50v3.34M391.50 310.90h-3.34M571.50 422.50v3.34M391.50 273.70h-3.34M616.50 422.50v3.34M391.50 236.50h-3.34M639.50 422.50h3.34M639.50 399.25h3.34M639.50 376.00h3.34M639.50 352.75h3.34M639.50 329.50h3.34M639.50 306.25h3.34M639.50 283.00h3.34M639.50 259.75h3.34M639.50 236.50h3.34" stroke="#000" stroke-width="0.76" fill="none"/>
<text x="329.80" y="178.30" font-size="11.40" transform="rotate(-90 329.80 178.30)">Thermal conductivity (</text>
<text x="324.60" y="39.60" font-size="7.98" transform="rotate(-90 324.60 39.60)" font-style="italic">W</text>
<path d="M327.4 22.9V49.3" stroke="#000" stroke-width="0.7"/>
<text x="334.90" y="48.90" font-size="7.98" transform="rotate(-90 334.90 48.90)"><tspan font-style="italic">m</tspan><tspan dx="0.6">−</tspan><tspan font-size="5.98" dy="-2.4" dx="1.2">∘</tspan><tspan font-style="italic" dy="2.4" dx="0.3">C</tspan></text>
<text x="330.60" y="21.80" font-size="11.40" transform="rotate(-90 330.60 21.80)">)</text>
<text x="680.80" y="186.60" font-size="11.52" transform="rotate(-90 680.80 186.60)">Thermal expansion (10<tspan font-size="7.98" dy="-4.10">−6</tspan><tspan dy="4.10"> </tspan><tspan font-size="7.98" dy="-4.10">∘</tspan><tspan font-style="italic" dy="4.10">C</tspan><tspan font-size="7.98" dy="-4.10">−1</tspan><tspan dy="4.10">)</tspan></text>
<text x="325.20" y="394.20" font-size="11.40" transform="rotate(-90 325.20 394.20)">Young's Modulus (GPa)</text>
<text x="683.10" y="387.50" font-size="11.40" transform="rotate(-90 683.10 387.50)">Yield Strength (MPa)</text>
</svg>
</body></html>
